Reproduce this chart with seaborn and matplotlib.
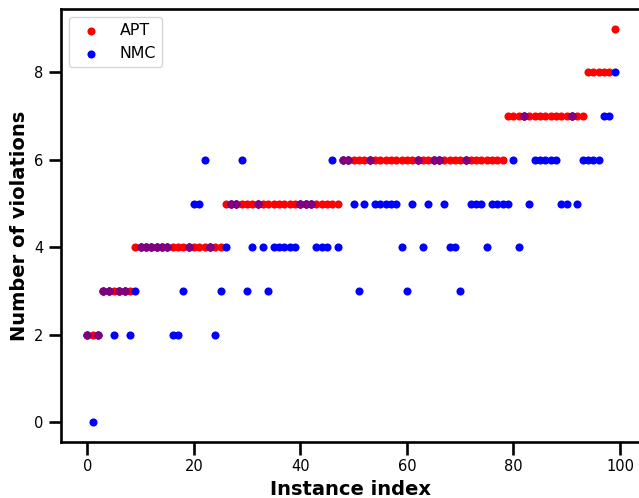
import matplotlib
matplotlib.use("Agg")
import matplotlib.pyplot as plt
import pandas as pd
import seaborn as sns

# Violations per instance, instances ordered by the APT result
instance_index = list(range(100))

apt_violations = [
    2, 2, 2, 3, 3, 3, 3, 3, 3, 4,
    4, 4, 4, 4, 4, 4, 4, 4, 4, 4,
    4, 4, 4, 4, 4, 4, 5, 5, 5, 5,
    5, 5, 5, 5, 5, 5, 5, 5, 5, 5,
    5, 5, 5, 5, 5, 5, 5, 5, 6, 6,
    6, 6, 6, 6, 6, 6, 6, 6, 6, 6,
    6, 6, 6, 6, 6, 6, 6, 6, 6, 6,
    6, 6, 6, 6, 6, 6, 6, 6, 6, 7,
    7, 7, 7, 7, 7, 7, 7, 7, 7, 7,
    7, 7, 7, 7, 8, 8, 8, 8, 8, 9,
]

nmc_violations = [
    2, 0, 2, 3, 3, 2, 3, 3, 2, 3,
    4, 4, 4, 4, 4, 4, 2, 2, 3, 4,
    5, 5, 6, 4, 2, 3, 4, 5, 5, 6,
    3, 4, 5, 4, 3, 4, 4, 4, 4, 4,
    5, 5, 5, 4, 4, 4, 6, 4, 6, 6,
    5, 3, 5, 6, 5, 5, 5, 5, 5, 4,
    3, 5, 6, 4, 5, 6, 6, 5, 4, 4,
    3, 6, 5, 5, 5, 4, 5, 5, 5, 5,
    6, 4, 7, 5, 6, 6, 6, 6, 6, 5,
    5, 7, 5, 6, 6, 6, 6, 7, 7, 8,
]

df = pd.DataFrame({
    "index": instance_index,
    "APT": apt_violations,
    "NMC": nmc_violations,
})
ties = df[df["APT"] == df["NMC"]]

sns.set_style("ticks")
plt.rcParams["font.family"] = ["DejaVu Sans"]
plt.rcParams.update({
    "text.color": "black",
    "axes.labelcolor": "black",
    "xtick.color": "black",
    "ytick.color": "black",
})

fig = plt.figure(figsize=(6.39, 4.98), dpi=100)
ax = fig.add_axes([61 / 639, 56 / 498, 580 / 639, 433 / 498])

marker_kw = dict(s=34, linewidth=0, ax=ax)
sns.scatterplot(data=df, x="index", y="APT", color="red", label="APT", **marker_kw)
sns.scatterplot(data=df, x="index", y="NMC", color="blue", label="NMC", **marker_kw)
# Instances where both methods give the same count
sns.scatterplot(data=ties, x="index", y="APT", color="purple", legend=False, **marker_kw)

ax.set_xticks([0, 20, 40, 60, 80, 100])
ax.set_yticks([0, 2, 4, 6, 8])
ax.set_xlabel("Instance index", fontsize=14, fontweight="bold")
ax.set_ylabel("Number of violations", fontsize=14, fontweight="bold")

for spine in ax.spines.values():
    spine.set_linewidth(1.9)
    spine.set_color("black")
ax.tick_params(axis="both", length=9, width=1.9, labelsize=10.5, color="black")

ax.legend(loc="upper left", fontsize=11.4, frameon=True)

fig.savefig("out.png", dpi=100)
